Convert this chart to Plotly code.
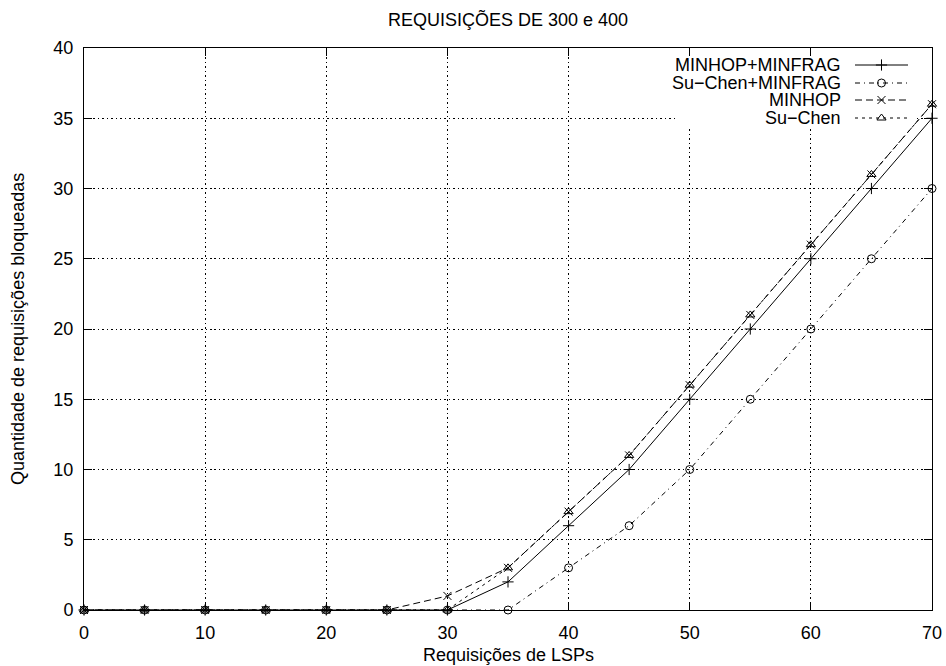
import plotly.graph_objects as go

# LSP requests (x) and blocked requests per algorithm (y)
requests = [0, 5, 10, 15, 20, 25, 30, 35, 40, 45, 50, 55, 60, 65, 70]
minhop_minfrag = [0, 0, 0, 0, 0, 0, 0, 2, 6, 10, 15, 20, 25, 30, 35]
suchen_minfrag = [0, 0, 0, 0, 0, 0, 0, 0, 3, 6, 10, 15, 20, 25, 30]
minhop = [0, 0, 0, 0, 0, 0, 1, 3, 7, 11, 16, 21, 26, 31, 36]
suchen = [0, 0, 0, 0, 0, 0, 0, 3, 7, 11, 16, 21, 26, 31, 36]

series_names = ["MINHOP+MINFRAG", "Su\u2212Chen+MINFRAG", "MINHOP", "Su\u2212Chen"]
series_values = [minhop_minfrag, suchen_minfrag, minhop, suchen]

x_ticks = [0, 10, 20, 30, 40, 50, 60, 70]
y_ticks = [0, 5, 10, 15, 20, 25, 30, 35, 40]

title_text = "REQUISIÇÕES DE 300 e 400"
x_title = "Requisições de LSPs"
y_title = "Quantidade de requisições bloqueadas"

FONT = "Liberation Sans, Arial, Helvetica, sans-serif"
FS = 18
W, H = 946, 666
ML, MR, MT, MB = 84, 14, 48, 56
PW, PH = W - ML - MR, H - MT - MB
X_RANGE = [0, 70]
Y_RANGE = [0, 40]
MSIZE = 8

styles = [
    dict(dash="solid", symbol="cross-thin"),
    dict(dash="5px,4px,1px,4px", symbol="circle-open"),
    dict(dash="7px,4px", symbol="x-thin"),
    dict(dash="3px,4px", symbol="triangle-up-open"),
]

fig = go.Figure()

for name, vals, st in zip(series_names, series_values, styles):
    fig.add_trace(go.Scatter(
        x=requests, y=vals, name=name, mode="lines+markers",
        line=dict(color="black", width=1, dash=st["dash"]),
        marker=dict(symbol=st["symbol"], size=MSIZE, color="black",
                    line=dict(color="black", width=1)),
        cliponaxis=False, showlegend=False,
    ))

# Key drawn in pixel-offset coordinates on a hidden overlay axis pair
row_y = [545, 527, 510, 492]
sample_x0, sample_x1 = 771, 824
text_x = 759
for name, st, ry in zip(series_names, styles, row_y):
    fig.add_trace(go.Scatter(
        x=[sample_x0, sample_x1], y=[ry, ry], mode="lines",
        line=dict(color="black", width=1, dash=st["dash"]),
        xaxis="x2", yaxis="y2", showlegend=False, hoverinfo="skip",
    ))
    fig.add_trace(go.Scatter(
        x=[(sample_x0 + sample_x1) / 2], y=[ry], mode="markers",
        marker=dict(symbol=st["symbol"], size=MSIZE, color="black",
                    line=dict(color="black", width=1)),
        xaxis="x2", yaxis="y2", showlegend=False, hoverinfo="skip",
    ))
    fig.add_annotation(
        x=text_x, y=ry, xref="x2", yref="y2", text=name, showarrow=False,
        xanchor="right", yanchor="middle",
        font=dict(family=FONT, size=FS, color="black"),
    )


def px_to_x(px):
    return X_RANGE[0] + px / PW * (X_RANGE[1] - X_RANGE[0])


def px_to_y(px):
    return Y_RANGE[0] + px / PH * (Y_RANGE[1] - Y_RANGE[0])


# Blank area behind the key hides the grid there (above grid, below traces)
fig.add_shape(
    type="rect", xref="x", yref="y",
    x0=px_to_x(593), x1=px_to_x(832), y0=px_to_y(482), y1=px_to_y(560),
    fillcolor="white", line=dict(width=0), layer="between",
)

axis_common = dict(
    showline=True, linecolor="black", linewidth=1, mirror="ticks",
    ticks="inside", ticklen=8, tickcolor="black", tickwidth=1,
    showgrid=True, gridcolor="black", gridwidth=1, griddash="1.5px,3px",
    zeroline=False, automargin=False,
    tickfont=dict(family=FONT, size=FS, color="black"),
)

fig.update_layout(
    width=W, height=H, autosize=False,
    margin=dict(l=ML, r=MR, t=MT, b=MB, pad=0, autoexpand=False),
    paper_bgcolor="white", plot_bgcolor="white",
    font=dict(family=FONT, size=FS, color="black"),
    xaxis=dict(range=X_RANGE, tickvals=x_ticks, ticklabelstandoff=6, **axis_common),
    yaxis=dict(range=Y_RANGE, tickvals=y_ticks, ticklabelstandoff=6, **axis_common),
    xaxis2=dict(range=[0, PW], overlaying="x", visible=False),
    yaxis2=dict(range=[0, PH], overlaying="y", visible=False),
)

fig.add_annotation(
    text=title_text, x=0.5, y=1 + (MT - 19) / PH,
    xref="paper", yref="paper", showarrow=False,
    xanchor="center", yanchor="middle",
    font=dict(family=FONT, size=FS, color="black"),
)
fig.add_annotation(
    text=x_title, x=0.5, y=-(655 - MT - PH) / PH,
    xref="paper", yref="paper", showarrow=False,
    xanchor="center", yanchor="middle",
    font=dict(family=FONT, size=FS, color="black"),
)
fig.add_annotation(
    text=y_title, x=-(ML - 18) / PW, y=0.5,
    xref="paper", yref="paper", showarrow=False, textangle=-90,
    xanchor="center", yanchor="middle",
    font=dict(family=FONT, size=FS, color="black"),
)

fig.write_html("out.html", config={"responsive": False})
